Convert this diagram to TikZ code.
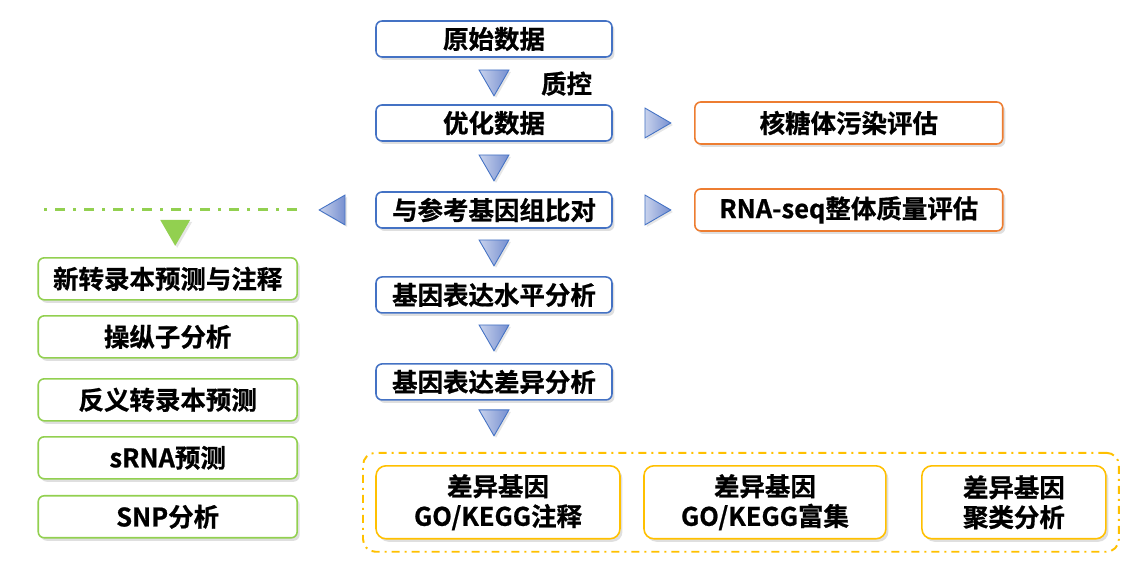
\documentclass[tikz,border=0pt]{standalone}
\usepackage{fontspec}
\setmainfont{Noto Sans CJK SC}[BoldFont=* Bold, BoldFeatures={FakeBold=0.8}]
\usetikzlibrary{shapes.geometric, positioning, shadows, fit}

\definecolor{bluebd}{RGB}{68,114,196}
\definecolor{triblue}{RGB}{118,143,208}
\definecolor{orangebd}{RGB}{237,125,49}
\definecolor{greenbd}{RGB}{146,208,80}
\definecolor{yellowbd}{RGB}{255,192,0}

\tikzset{
    txt/.style={font=\fontsize{14.5}{17}\selectfont\bfseries},
    box/.style={txt, draw, rounded corners=0.12cm, line width=0.9pt, fill=white, align=center, inner sep=0pt, outer sep=0pt,
        drop shadow={shadow xshift=0.05cm, shadow yshift=-0.06cm, opacity=0.25}},
    bluebox/.style={box, draw=bluebd, minimum width=4.72cm, minimum height=0.72cm},
    orangebox/.style={box, draw=orangebd, minimum width=6.16cm, minimum height=0.84cm},
    greenbox/.style={box, draw=greenbd, minimum width=5.18cm, minimum height=0.84cm},
    yellowbox/.style={box, draw=yellowbd, rounded corners=0.2cm, minimum height=1.46cm},
    trishape/.style={regular polygon, regular polygon sides=3, minimum size=0.69cm, inner sep=0pt, outer sep=0pt,
        drop shadow={shadow xshift=0.04cm, shadow yshift=-0.04cm, opacity=0.2}},
    bluetri/.style={trishape, draw=bluebd, line width=0.5pt, left color=triblue!40, right color=triblue},
    tridown/.style={bluetri, shape border rotate=180},
    triright/.style={bluetri, shape border rotate=-90},
    trileft/.style={bluetri, shape border rotate=90},
    greentri/.style={trishape, fill=greenbd, shape border rotate=180},
    greenline/.style={draw=greenbd, line width=0.06cm, dash pattern=on 0.2cm off 0.16cm on 0.06cm off 0.16cm},
    groupbox/.style={draw=yellowbd, line width=1.1pt, rounded corners=0.25cm,
        dash pattern=on 0.16cm off 0.1cm on 0.04cm off 0.1cm},
}

\begin{document}
\begin{tikzpicture}[x=0.02cm, y=-0.02cm]
    \useasboundingbox (0,0) rectangle (1140,571);

    % main line
    \node[bluebox] (raw) at (494,39) {原始数据};
    \node[tridown, below=0.26cm of raw] (t1) {};
    \node[txt, right=0.62cm of t1, yshift=-0.1cm] (qc) {质控};
    \node[bluebox, below=0.96cm of raw] (clean) {优化数据};
    \node[tridown, below=0.28cm of clean] (t2) {};
    \node[bluebox, below=1.02cm of clean] (align) {与参考基因组比对};
    \node[tridown, below=0.24cm of align] (t3) {};
    \node[bluebox, below=0.98cm of align] (expr) {基因表达水平分析};
    \node[tridown, below=0.24cm of expr] (t4) {};
    \node[bluebox, below=1.02cm of expr] (deg) {基因表达差异分析};
    \node[tridown, below=0.2cm of deg] (t5) {};

    % quality
    \node[triright, right=0.66cm of clean] (tr1) {};
    \node[orangebox, right=0.48cm of tr1] (rrna) {核糖体污染评估};
    \node[triright, right=0.66cm of align] (tr2) {};
    \node[orangebox, right=0.48cm of tr2] (rnaqc) {RNA-seq整体质量评估};

    % structure
    \node[trileft, left=0.62cm of align] (tl) {};
    \coordinate[left=0.44cm of tl] (g1);
    \coordinate[left=5.12cm of g1] (g0);
    \draw[greenline] (g1) -- (g0);
    \node[greentri, below=0.2cm of g0, xshift=2.68cm] (tg) {};

    \node[greenbox, below=0.24cm of tg, xshift=-0.15cm] (newtx) {新转录本预测与注释};
    \node[greenbox, below=0.32cm of newtx] (operon) {操纵子分析};
    \node[greenbox, below=0.42cm of operon] (antisense) {反义转录本预测};
    \node[greenbox, below=0.32cm of antisense] (srna) {sRNA预测};
    \node[greenbox, below=0.34cm of srna] (snp) {SNP分析};

    % DEG
    \node[yellowbox, minimum width=4.88cm, below=0.6cm of t5, xshift=0.08cm] (goann) {差异基因\\GO/KEGG注释};
    \node[yellowbox, minimum width=4.84cm, right=0.48cm of goann] (goenr) {差异基因\\GO/KEGG富集};
    \node[yellowbox, minimum width=3.68cm, right=0.72cm of goenr] (clust) {差异基因\\聚类分析};
    \node[groupbox, fit=(goann)(clust), inner sep=0.26cm] (degs) {};
\end{tikzpicture}
\end{document}
